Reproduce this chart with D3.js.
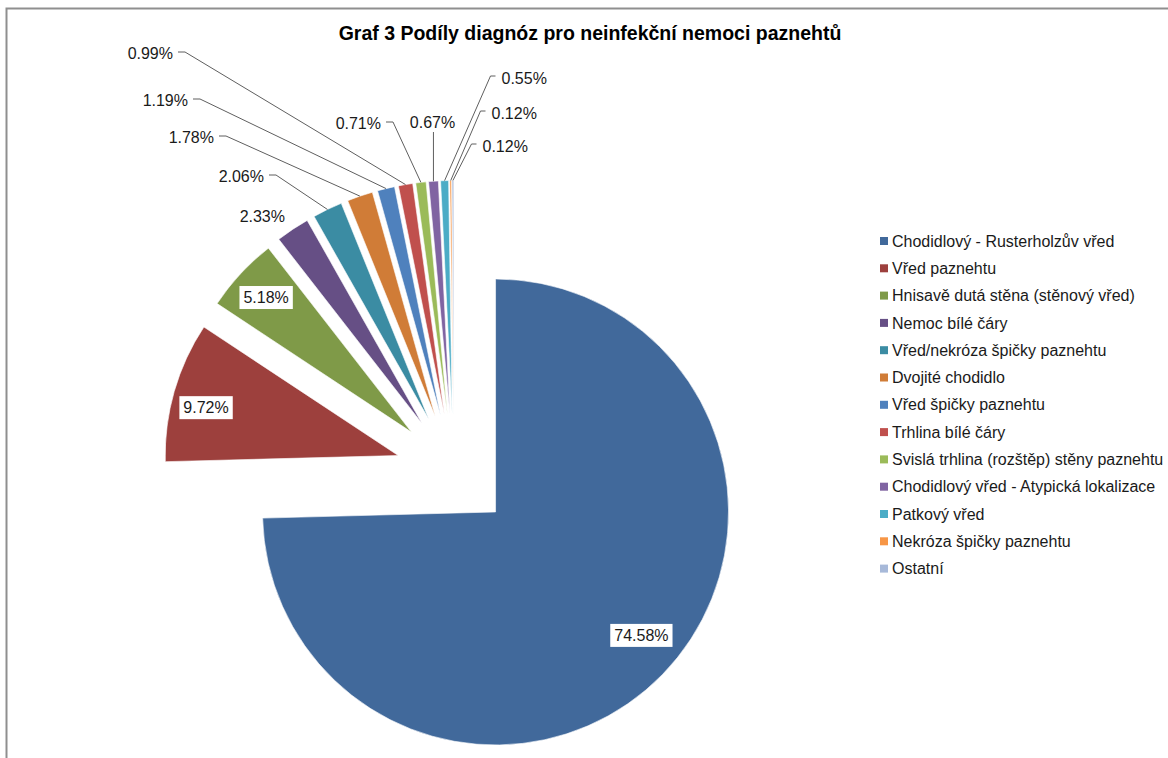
<!DOCTYPE html>
<html>
<head>
<meta charset="utf-8">
<script src="https://cdn.jsdelivr.net/npm/d3@7"></script>
<style>
  html, body { margin: 0; padding: 0; background: #fff; }
  svg { display: block; }
  text { font-family: "Liberation Sans", Arial, sans-serif; }
</style>
</head>
<body>
<svg id="chart" width="1168" height="758"></svg>
<script>
// Diagnoses (legend order = slice order, clockwise from 12 o'clock)
const categories = [
  "Chodidlový - Rusterholzův vřed",
  "Vřed paznehtu",
  "Hnisavě dutá stěna (stěnový vřed)",
  "Nemoc bílé čáry",
  "Vřed/nekróza špičky paznehtu",
  "Dvojité chodidlo",
  "Vřed špičky paznehtu",
  "Trhlina bílé čáry",
  "Svislá trhlina (rozštěp) stěny paznehtu",
  "Chodidlový vřed - Atypická lokalizace",
  "Patkový vřed",
  "Nekróza špičky paznehtu",
  "Ostatní"
];

// Share of each diagnosis, in percent
const shares = [74.58, 9.72, 5.18, 2.33, 2.06, 1.78, 1.19, 0.99, 0.71, 0.67, 0.55, 0.12, 0.12];

const colors = [
  "#41699b", "#9d403d", "#7f9a48", "#664f85", "#3b8ca3", "#d07c37",
  "#4f81bd", "#c0504d", "#9bbb59", "#8064a2", "#4bacc6", "#f79646", "#a7b9d9"
];

const title = "Graf 3 Podíly diagnóz pro neinfekční nemoci paznehtů";

// ---- layout ----
const W = 1168, H = 758;
const cx = 454, cy = 471.5;     // pie centre
const R = 233;                   // slice radius
const explode = 58;              // every slice is pulled out along its bisector

// Labels drawn inside their slice: radial position (fraction of R) and angular nudge (deg)
const insideLabels = { 0: { r: 0.82, da: -4 }, 1: { r: 0.85, da: -2 }, 2: { r: 0.85, da: 0 } };
// Labels placed around the top of the pie: anchor point, text anchor and leader style
const outsideLabels = {
  3:  { x: 285,   y: 216, anchor: "end",    leader: "none" },
  4:  { x: 264,   y: 176, anchor: "end",    leader: "right" },
  5:  { x: 214,   y: 137, anchor: "end",    leader: "right" },
  6:  { x: 188,   y: 100, anchor: "end",    leader: "right" },
  7:  { x: 173,   y: 53,  anchor: "end",    leader: "right" },
  8:  { x: 381,   y: 123, anchor: "end",    leader: "right" },
  9:  { x: 432.5, y: 122, anchor: "middle", leader: "down" },
  10: { x: 501.5, y: 78,  anchor: "start",  leader: "left" },
  11: { x: 491.5, y: 113, anchor: "start",  leader: "left" },
  12: { x: 482.5, y: 146, anchor: "start",  leader: "left" }
};

const svg = d3.select("#chart");
svg.append("rect").attr("width", W).attr("height", H).attr("fill", "#fff");

// chart frame
svg.append("path")
  .attr("d", `M6.5,${H} L6.5,8.5 L${W},8.5`)
  .attr("fill", "none").attr("stroke", "#8f8f8f").attr("stroke-width", 2);

// title
svg.append("text")
  .attr("x", 590).attr("y", 40)
  .attr("text-anchor", "middle")
  .attr("font-size", 19.5).attr("font-weight", "bold").attr("fill", "#000")
  .text(title);

const pie = d3.pie().sort(null).value(d => d).startAngle(0).endAngle(2 * Math.PI);
const arcs = pie(shares);
const arc = d3.arc().innerRadius(0).outerRadius(R);
const fmt = v => d3.format(".2f")(v) + "%";

// polar helper: angle measured clockwise from 12 o'clock
const polar = (a, r) => [Math.sin(a) * r, -Math.cos(a) * r];

const g = svg.append("g").attr("transform", `translate(${cx},${cy})`);

arcs.forEach((d, i) => {
  const mid = (d.startAngle + d.endAngle) / 2;
  const [ox, oy] = polar(mid, explode);
  d.ox = ox; d.oy = oy; d.mid = mid;
});

g.selectAll("path.slice")
  .data(arcs)
  .join("path")
  .attr("class", "slice")
  .attr("transform", d => `translate(${d.ox},${d.oy})`)
  .attr("d", arc)
  .attr("fill", (d, i) => colors[i])
  .attr("stroke", "#fff").attr("stroke-width", 0.6);

// labels inside big slices (white boxed)
Object.entries(insideLabels).forEach(([k, o]) => {
  const i = +k, d = arcs[i];
  const a = d.mid + o.da * Math.PI / 180;
  const [px, py] = polar(a, R * o.r);
  const x = cx + d.ox + px, y = cy + d.oy + py;
  const t = svg.append("text")
    .attr("x", x).attr("y", y + 5.5)
    .attr("text-anchor", "middle")
    .attr("font-size", 16).attr("fill", "#1a1a1a")
    .text(fmt(shares[i]));
  const bb = t.node().getBBox();
  svg.insert("rect", () => t.node())
    .attr("x", bb.x - 4).attr("y", y - 11.5)
    .attr("width", bb.width + 8).attr("height", 23)
    .attr("fill", "#fff");
});

// labels around the top of the pie with leader lines
const leaderG = svg.append("g").attr("fill", "none").attr("stroke", "#5f5f5f").attr("stroke-width", 1);
Object.entries(outsideLabels).forEach(([k, o]) => {
  const i = +k, d = arcs[i];
  const [ex, ey] = polar(d.mid, R);
  const tipX = cx + d.ox + ex, tipY = cy + d.oy + ey;
  svg.append("text")
    .attr("x", o.x).attr("y", o.y + 5.5)
    .attr("text-anchor", o.anchor)
    .attr("font-size", 16).attr("fill", "#1a1a1a")
    .text(fmt(shares[i]));
  if (o.leader === "right") {
    const x0 = o.x + 5;
    leaderG.append("path").attr("d", `M${x0},${o.y - 1} H${x0 + 7} L${tipX},${tipY}`);
  } else if (o.leader === "left") {
    const x0 = o.x - 6;
    leaderG.append("path").attr("d", `M${x0},${o.y - 2} H${x0 - 5} L${tipX},${tipY}`);
  } else if (o.leader === "down") {
    leaderG.append("path").attr("d", `M${tipX},${o.y + 10} L${tipX},${tipY}`);
  }
});

// legend
const legend = svg.append("g").attr("transform", "translate(880,241)");
const rowH = 27.3;
const rows = legend.selectAll("g").data(categories).join("g")
  .attr("transform", (d, i) => `translate(0,${i * rowH})`);
rows.append("rect").attr("x", 0).attr("y", -4).attr("width", 8).attr("height", 8)
  .attr("fill", (d, i) => colors[i]);
rows.append("text").attr("x", 12).attr("y", 5.6)
  .attr("font-size", 16).attr("fill", "#1a1a1a")
  .text(d => d);
</script>
</body>
</html>
